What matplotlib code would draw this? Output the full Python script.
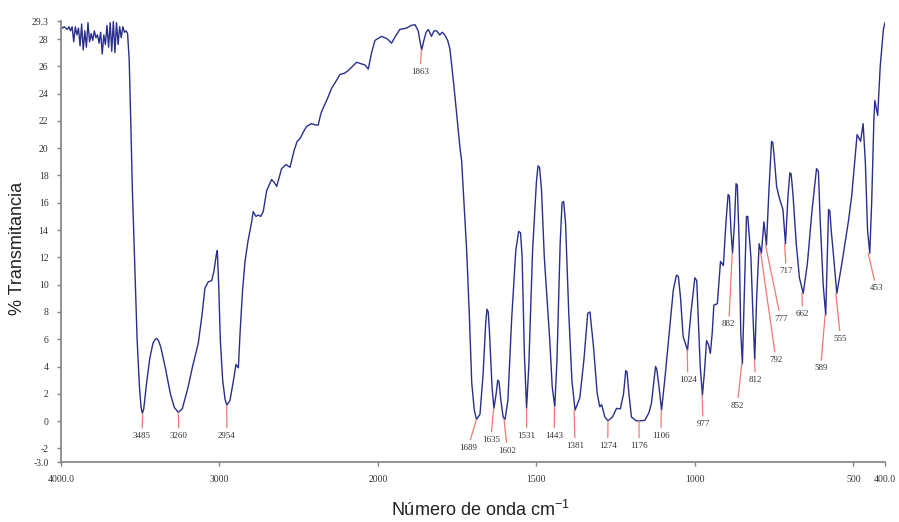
import numpy as np
import matplotlib
matplotlib.use("Agg")
from matplotlib import pyplot as plt

# Spectrum (wavenumber cm-1, % transmittance)
wavenumber = [
    4000, 3990, 3980, 3970, 3960, 3950, 3940, 3930, 3920, 3910, 3900, 3890,
    3880, 3870, 3860, 3850, 3840, 3830, 3820, 3810, 3800, 3790, 3780, 3770,
    3760, 3750, 3740, 3730, 3720, 3710, 3700, 3690, 3680, 3670, 3660, 3650,
    3640, 3630, 3620, 3610, 3600, 3590,
    3580, 3570, 3560, 3550, 3538, 3520, 3505, 3495, 3487, 3478, 3460, 3440,
    3420, 3405, 3396, 3385, 3370, 3340, 3310, 3285, 3260, 3235, 3200, 3170,
    3134, 3110, 3092, 3071, 3049, 3035, 3020, 3014, 3005, 2995, 2980, 2965,
    2954, 2934, 2913, 2896, 2881, 2870, 2855, 2839, 2820, 2800, 2787, 2770,
    2755, 2740, 2724, 2702, 2671, 2655, 2639, 2620, 2608, 2580, 2555, 2530,
    2510, 2492, 2470, 2450, 2420, 2395, 2377, 2365, 2355, 2320, 2292, 2260,
    2240, 2210, 2187, 2160, 2134, 2110, 2082, 2061, 2040, 2019, 1988, 1970,
    1957, 1945, 1931, 1910, 1895, 1883, 1873, 1867, 1862, 1855, 1848, 1841,
    1831, 1823, 1815, 1805, 1797, 1789, 1780, 1773, 1760, 1741, 1736, 1720,
    1712, 1704, 1696, 1689, 1678, 1668, 1660, 1656, 1652, 1648, 1640, 1634,
    1627, 1622, 1618, 1612, 1605, 1599, 1590, 1578, 1565, 1556, 1550, 1545,
    1538, 1531, 1524, 1512, 1500, 1495, 1490, 1484, 1475, 1466, 1458, 1450,
    1442, 1435, 1425, 1419, 1414, 1408, 1398, 1388, 1378, 1363, 1350, 1338,
    1331, 1320, 1308, 1300, 1294, 1284, 1274, 1260, 1247, 1235, 1225, 1218,
    1214, 1208, 1200, 1185, 1174, 1158, 1145, 1137, 1124, 1120, 1113, 1105,
    1095, 1084, 1068, 1058, 1052, 1045, 1037, 1023, 1012, 1000, 994, 990,
    983, 976, 970, 963, 957, 951, 945, 940, 929, 919, 910, 902,
    895, 891, 886, 881, 875, 870, 866, 860, 855, 850, 843, 837,
    833, 828, 823, 817, 811, 805, 797, 790, 782, 774, 766, 758,
    754, 750, 742, 735, 730, 722, 714, 706, 700, 696, 690, 680,
    670, 658, 645, 630, 616, 610, 605, 595, 587, 578, 574, 569,
    563, 552, 540, 531, 515, 505, 488, 477, 469, 462, 455, 448,
    442, 435, 432, 423, 415, 405, 400,
]
transmittance = [
    28.9, 28.8, 28.9, 28.8, 28.7, 28.9, 28.6, 28.9, 27.8, 28.9, 28.3, 28.8,
    27.5, 29.1, 27.2, 28.6, 27.4, 29.2, 27.8, 28.4, 27.9, 28.6, 28.1, 28.3,
    27.7, 28.5, 26.9, 28.3, 27.6, 29.0, 27.4, 29.2, 27.1, 29.3, 27.0, 29.2,
    27.6, 28.9, 28.1, 28.9, 28.5, 28.6,
    28.4, 26.5, 22.0, 17.0, 12.7, 6.0, 2.5, 1.0, 0.56, 0.9, 2.8, 4.6,
    5.7, 6.0, 6.06, 5.9, 5.4, 3.8, 2.0, 1.0, 0.64, 0.9, 2.4, 4.0,
    5.7, 7.8, 9.75, 10.2, 10.3, 11.0, 12.2, 12.5, 10.0, 6.0, 3.0, 1.6,
    1.17, 1.5, 2.9, 4.15, 3.9, 6.5, 9.5, 11.7, 13.2, 14.4, 15.35, 15.0,
    15.1, 15.0, 15.35, 16.9, 17.7, 17.5, 17.2, 18.0, 18.5, 18.8, 18.6, 19.8,
    20.5, 20.7, 21.2, 21.6, 21.8, 21.7, 21.7, 22.3, 22.7, 23.6, 24.4, 25.0,
    25.4, 25.5, 25.7, 26.0, 26.3, 26.2, 26.1, 25.8, 27.0, 27.9, 28.2, 28.0,
    27.7, 28.2, 28.7, 28.8, 29.0, 29.05, 28.6, 27.8, 27.2, 27.9, 28.5, 28.7,
    28.2, 28.6, 28.6, 28.3, 28.5, 28.3, 27.9, 27.3, 24.5, 20.0, 19.1, 12.5,
    8.0, 2.8, 0.8, 0.12, 0.5, 3.5, 7.2, 8.2, 8.0, 6.5, 2.5, 0.93,
    2.0, 3.0, 2.9, 1.5, 0.3, 0.12, 1.5, 7.5, 12.5, 13.9, 13.8, 12.0,
    5.0, 0.93, 4.0, 12.5, 17.5, 18.7, 18.6, 17.0, 12.0, 8.87, 6.0, 2.5,
    1.05, 4.5, 13.0, 16.0, 16.1, 14.5, 8.0, 3.0, 0.8, 1.7, 4.5, 7.9,
    8.0, 5.5, 2.0, 1.05, 1.2, 0.3, 0.02, 0.3, 0.93, 0.9, 2.0, 3.7,
    3.6, 2.0, 0.3, 0.02, 0.02, 0.05, 0.6, 1.3, 4.0, 3.8, 2.5, 0.8,
    3.0, 5.7, 9.6, 10.7, 10.6, 9.0, 6.2, 5.2, 8.0, 10.5, 10.3, 8.0,
    4.0, 1.9, 3.5, 5.9, 5.6, 4.96, 6.5, 8.5, 8.6, 11.7, 11.4, 14.5,
    16.6, 16.5, 14.0, 12.3, 14.5, 17.4, 17.3, 13.0, 6.5, 4.2, 10.0, 15.0,
    15.0, 13.5, 12.0, 8.0, 4.5, 9.0, 13.0, 12.3, 14.6, 12.9, 17.0, 20.5,
    20.4, 19.5, 17.2, 16.5, 16.1, 15.5, 13.0, 16.5, 18.2, 18.1, 16.5, 13.0,
    10.5, 9.36, 11.5, 15.5, 18.5, 18.3, 15.0, 10.0, 7.77, 15.5, 15.4, 13.8,
    12.3, 9.36, 11.0, 12.3, 14.7, 16.5, 21.0, 20.5, 21.8, 19.0, 14.0, 12.3,
    16.0, 22.1, 23.5, 22.4, 26.0, 28.7, 29.2,
]

# Labelled bands: label, band position, transmittance at the band
peak_labels = ["3485", "3260", "2954", "1863", "1689", "1635", "1602", "1531",
               "1443", "1381", "1274", "1176", "1106", "1024", "977", "882",
               "852", "812", "792", "777", "717", "662", "589", "555", "453"]
peak_t = [0.56, 0.64, 1.17, 27.2, 0.12, 0.93, 0.12, 0.93,
          1.05, 0.8, 0.02, 0.02, 0.8, 5.2, 1.9, 12.3,
          4.2, 4.5, 12.3, 12.9, 13.0, 9.36, 7.77, 9.36, 12.3]
# where each label text sits (wavenumber, transmittance)
label_w = [3489, 3256, 2953, 1867, 1716, 1644, 1592, 1531,
           1444, 1378, 1275, 1176, 1107, 1022, 974, 893,
           866, 808, 744, 729, 711, 660, 603, 540, 427]
label_t = [-1.1, -1.1, -1.1, 25.6, -1.96, -1.39, -2.16, -1.08,
           -1.08, -1.81, -1.81, -1.81, -1.08, 3.0, -0.22, 7.09,
           1.12, 3.0, 4.47, 7.5, 10.98, 7.84, 3.86, 6.03, 9.72]

x_ticks = [4000, 3000, 2000, 1500, 1000, 500, 400]
x_tick_labels = ["4000.0", "3000", "2000", "1500", "1000", "500", "400.0"]
y_ticks = [-3, -2, 0, 2, 4, 6, 8, 10, 12, 14, 16, 18, 20, 22, 24, 26, 28, 29.3]
y_tick_labels = ["-3.0", "-2", "0", "2", "4", "6", "8", "10", "12", "14", "16",
                 "18", "20", "22", "24", "26", "28", "29.3"]


# below 2000 cm-1 the axis is drawn at twice the scale
def forward(w):
    w = np.asarray(w, dtype=float)
    return np.where(w >= 2000, w, 2000 - (2000 - w) * 2)


def inverse(x):
    x = np.asarray(x, dtype=float)
    return np.where(x >= 2000, x, 2000 - (2000 - x) / 2)


plt.rcParams['mathtext.default'] = 'regular'

fig = plt.figure(figsize=(8.99, 5.22), dpi=100)
ax = fig.add_axes([0.0679, 0.1149, 0.9165, 0.8443])
ax.set_xscale('function', functions=(forward, inverse))

ax.plot(wavenumber, transmittance, color='#2a2e8c', lw=1.0)

for i in range(len(peak_labels)):
    ax.annotate(peak_labels[i], xy=(int(peak_labels[i]), peak_t[i]),
                xytext=(label_w[i], label_t[i]), ha='center', va='center',
                fontsize=6.5, family='Liberation Serif', color='#333333',
                arrowprops=dict(arrowstyle='-', color='#f07a78', lw=0.9,
                                shrinkA=1, shrinkB=0))

ax.set_xlim(4000, 400)
ax.set_ylim(-3, 29.3)
ax.set_xticks(x_ticks)
ax.set_xticklabels(x_tick_labels)
ax.set_yticks(y_ticks)
ax.set_yticklabels(y_tick_labels)
ax.xaxis.set_minor_locator(matplotlib.ticker.NullLocator())

for lab in ax.get_xticklabels() + ax.get_yticklabels():
    lab.set_family('Liberation Serif')
    lab.set_fontsize(7)
    lab.set_color('#333333')
ax.tick_params(length=3, width=1, color='#808080', pad=6)

for side in ['top', 'right']:
    ax.spines[side].set_visible(False)
for side in ['left', 'bottom']:
    ax.spines[side].set_color('#8a8a8a')
    ax.spines[side].set_linewidth(1.3)

fig.text(0.534, 0.004, 'Número de onda cm$^{-1}$', ha='center', va='bottom',
         fontsize=13, family='Liberation Sans', color='#222222')
fig.text(0.02, 0.525, '% Transmitancia', ha='center', va='center',
         rotation=90, fontsize=13, family='Liberation Sans', color='#222222')

fig.savefig('out.png', dpi=100)
